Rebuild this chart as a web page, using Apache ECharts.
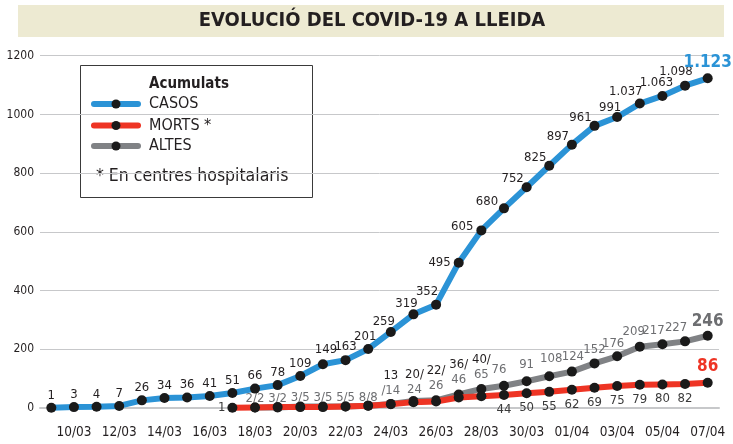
<!DOCTYPE html>
<html lang="ca">
<head>
    <meta charset="UTF-8">
    <title>Evolució del COVID-19 a Lleida</title>
    <script src="https://cdn.jsdelivr.net/npm/echarts@6/dist/echarts.min.js"></script>
</head>
<style>
    *{
        margin: 0;
        padding: 0;
    }
    html , body{
        width: 733px;
        height: 444px;
        background: #fff;
    }
    .container{
        width: 733px;
        height: 444px;
    }
</style>
<body>
<div class="container"></div>
<script>
    // dies (09/03 - 07/04)
    const dates = ['09/03','10/03','11/03','12/03','13/03','14/03','15/03','16/03','17/03','18/03',
        '19/03','20/03','21/03','22/03','23/03','24/03','25/03','26/03','27/03','28/03',
        '29/03','30/03','31/03','01/04','02/04','03/04','04/04','05/04','06/04','07/04'];

    const casos = [1,3,4,7,26,34,36,41,51,66,78,109,149,163,201,259,319,352,495,605,
        680,752,825,897,961,991,1037,1063,1098,1123];

    const morts = [null,null,null,null,null,null,null,null,1,2,3,3,3,5,8,13,20,22,36,40,
        44,50,55,62,69,75,79,80,82,86];

    const altes = [null,null,null,null,null,null,null,null,null,2,2,5,5,5,8,14,24,26,46,65,
        76,91,108,124,152,176,209,217,227,246];

    const yTicks = [0,200,400,600,800,1000,1200];

    const F = "'DejaVu Sans Condensed', 'Liberation Sans Narrow', sans-serif";
    const BLUE = '#2b93d6';
    const RED = '#ee3424';
    const GREY = '#808285';
    const DARK = '#231f20';
    const LGREY = '#6d6e71';
    const FS = 13;

    function fmt(v){
        return v >= 1000 ? Math.floor(v / 1000) + '.' + String(v % 1000).padStart(3, '0') : String(v);
    }

    let container = document.querySelector('.container');
    let mycharts = echarts.init(container);

    // etiquetes de casos
    function casosLabel(i){
        if(i === casos.length - 1) return {position: 'top', distance: 2, fontSize: 17, fontWeight: 'bold', color: BLUE};
        if(i === 18 || i === 19) return {position: 'left', distance: 3};
        return {position: 'top', distance: 1};
    }
    // petits desplaçaments de les etiquetes de casos
    function casosNudge(i){
        if(i === 12) return [3, -2];
        if(i === 13) return [0, -1];
        if(i === 14) return [-3, 0];
        if(i === 15 || i === 16) return [-7, 2];
        if(i === 17) return [-9, -1];
        if(i === 19) return [0, -4];
        if(i === 20) return [-17, 6];
        if(i >= 21 && i <= 24) return [-14, 4];
        if(i === 25) return [-7, 3];
        if(i === 26) return [-14, 1];
        if(i === 27) return [-6, -1];
        if(i === 28) return [-9, -2];
        return [0, 0];
    }

    // etiquetes d'altes (i combinades morts/altes fins al 28/03)
    function altesLabel(i){
        let m = morts[i], a = altes[i];
        if(i === altes.length - 1){
            return {position: 'top', distance: 2, fontSize: 17, fontWeight: 'bold', color: LGREY, formatter: fmt(a)};
        }
        if(i <= 14){
            return {position: 'top', distance: 0, formatter: '{a|' + m + '/' + a + '}'};
        }
        if(i === 15){
            return {position: 'top', distance: 1, formatter: '{m|' + m + '}\n{a|/' + a + '}'};
        }
        if(i <= 19){
            return {position: 'top', distance: 2, formatter: '{m|' + m + '/}\n{a|' + a + '}'};
        }
        return {position: 'top', distance: 1, formatter: fmt(a)};
    }
    function altesNudge(i){
        if(i <= 14) return [0, 4];
        if(i === 16) return [1, 3];
        if(i === 20) return [-5, -3];
        if(i === 21) return [0, -3];
        if(i === 22) return [2, -4];
        if(i === 23) return [1, -1];
        if(i === 25) return [-4, 1];
        if(i === 26) return [-6, -2];
        if(i === 27 || i === 28) return [-9, 0];
        return [0, 0];
    }

    function mortsLabel(i){
        if(i === 8) return {show: true, position: 'left', distance: 2};
        if(i === morts.length - 1) return {show: true, position: 'top', distance: 3, fontSize: 17, fontWeight: 'bold', color: RED};
        if(i >= 20) return {show: true, position: 'bottom', distance: 3};
        return {show: false};
    }

    let casosData = casos.map((v, i) => ({value: v, label: casosLabel(i)}));
    let altesData = altes.map((v, i) => v == null ? null : ({value: v, label: altesLabel(i)}));
    let mortsData = morts.map((v, i) => v == null ? null : ({value: v, label: mortsLabel(i)}));

    let baseLabel = {
        show: true,
        fontFamily: F,
        fontSize: FS,
        color: DARK,
        formatter: p => fmt(p.value)
    };

    let nudge = fn => (p => {
        let s = fn(p.dataIndex);
        return {dx: s[0], dy: s[1], hideOverlap: false};
    });

    let lineSeries = (name, data, color, z, label, layout) => ({
        name,
        type: 'line',
        data,
        z,
        symbol: 'circle',
        symbolSize: 10,
        connectNulls: false,
        lineStyle: {color, width: 6, cap: 'round', join: 'round'},
        itemStyle: {color: '#1a1a1a'},
        label,
        labelLayout: layout,
        emphasis: {disabled: true}
    });

    let legendY = [104, 125.5, 146];
    let legendColors = [BLUE, RED, GREY];
    let legendNames = ['CASOS', 'MORTS *', 'ALTES'];
    let legendItems = [];
    legendY.forEach((y, k) => {
        legendItems.push({type: 'line', shape: {x1: 94, y1: y, x2: 138, y2: y},
            style: {stroke: legendColors[k], lineWidth: 6, lineCap: 'round'}});
        legendItems.push({type: 'circle', shape: {cx: 116, cy: y, r: 4.5}, style: {fill: '#1a1a1a'}});
        legendItems.push({type: 'text', x: 149, y: y,
            style: {text: legendNames[k], font: '16px ' + F, fill: DARK, textVerticalAlign: 'middle'}});
    });

    let options = {
        animation: false,
        grid: {left: 40, right: 14, top: 55.7, bottom: 36},
        xAxis: {
            type: 'category',
            data: dates,
            boundaryGap: true,
            axisLine: {lineStyle: {color: '#c7c8ca', width: 2}},
            axisTick: {show: false},
            axisLabel: {
                interval: (index) => index % 2 === 1,
                fontFamily: F,
                fontSize: 13.5,
                color: DARK,
                margin: 17
            }
        },
        yAxis: {
            type: 'value',
            min: yTicks[0],
            max: yTicks[yTicks.length - 1],
            interval: 200,
            axisLine: {show: false},
            axisTick: {show: false},
            axisLabel: {fontFamily: F, fontSize: 12, color: DARK, margin: 6, formatter: v => String(v)},
            splitLine: {lineStyle: {color: '#c7c8ca', width: 1}}
        },
        series: [
            lineSeries('ALTES', altesData, GREY, 2, Object.assign({}, baseLabel, {
                color: LGREY,
                lineHeight: 15,
                rich: {
                    m: {color: DARK, fontFamily: F, fontSize: FS, lineHeight: 15},
                    a: {color: LGREY, fontFamily: F, fontSize: FS, lineHeight: 15}
                }
            }), nudge(altesNudge)),
            lineSeries('MORTS *', mortsData, RED, 3, Object.assign({}, baseLabel, {color: '#3a3a3a'}),
                {hideOverlap: false}),
            lineSeries('CASOS', casosData, BLUE, 4, baseLabel, nudge(casosNudge))
        ],
        graphic: [
            {
                type: 'rect', shape: {x: 18, y: 5, width: 706, height: 32},
                style: {fill: '#edead2'}, z: 10
            },
            {
                type: 'text', x: 372, y: 21, z: 11,
                style: {text: 'EVOLUCIÓ DEL COVID-19 A LLEIDA', font: 'bold 20px ' + F,
                    fill: DARK, textAlign: 'center', textVerticalAlign: 'middle'}
            },
            {
                type: 'group', z: 20,
                children: [
                    {type: 'rect', shape: {x: 80.5, y: 65.5, width: 232, height: 132},
                        style: {fill: '#fff', stroke: '#3a3a3a', lineWidth: 1}},
                    {type: 'text', x: 149, y: 84,
                        style: {text: 'Acumulats', font: 'bold 15px ' + F, fill: DARK, textVerticalAlign: 'middle'}},
                    ...legendItems,
                    {type: 'text', x: 96, y: 176,
                        style: {text: '* En centres hospitalaris', font: '17.5px ' + F, fill: DARK, textVerticalAlign: 'middle'}}
                ]
            }
        ]
    };

    mycharts.setOption(options);
</script>
</body>
</html>
